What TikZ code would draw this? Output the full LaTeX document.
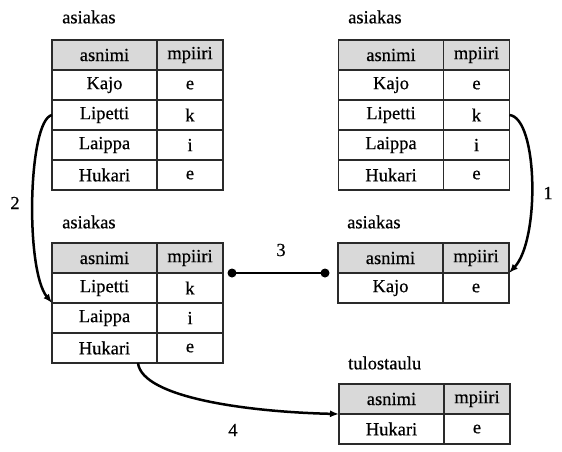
\documentclass[tikz,border=0pt]{standalone}
\usepackage{fontspec}
\setmainfont{Liberation Serif}
\newfontfamily\semib{Liberation Serif}[FakeBold=0.5]
\usetikzlibrary{arrows.meta}
\definecolor{hdrgray}{HTML}{D9D9D9}
\definecolor{linegray}{HTML}{2A2A2A}
\newcommand{\mytable}[4]{%
  \node[cell,hdr,minimum width=105pt] (#1h1) at (#2,#3) {asnimi};
  \node[cell,hdr,minimum width=66pt] (#1h2) at (#2+105,#3) {mpiiri};
  \foreach \a/\b [count=\i] in {#4} {
    \node[cell,minimum width=105pt] (#1r\i a) at (#2,{#3+30*\i}) {\a};
    \node[cell,minimum width=66pt] (#1r\i b) at (#2+105,{#3+30*\i}) {\b};
  }%
}
\begin{document}
\begin{tikzpicture}[x=1pt,y=-1pt,
  cell/.style={draw=linegray, line width=1.3pt, minimum height=30pt, inner sep=0pt,
    outer sep=0pt, anchor=north west, font=\semib\fontsize{18.5}{20}\selectfont},
  hdr/.style={fill=hdrgray},
  ttl/.style={anchor=west, inner sep=0pt, font=\semib\fontsize{18.5}{20}\selectfont},
  lbl/.style={inner sep=0pt, font=\semib\fontsize{18.5}{20}\selectfont},
  conn/.style={line width=2.5pt, black, -{Latex[length=9pt,width=7pt]}},
  dotline/.style={line width=2.5pt, black},
  ]
\useasboundingbox (0,0) rectangle (562,451);

\node[ttl] (ttl1) at (62,17) {asiakas};
\mytable{ta}{52}{40}{Kajo/e, Lipetti/k, Laippa/i, Hukari/e}

\node[ttl] (ttl2) at (348,17) {asiakas};
\mytable{tb}{338.5}{40}{Kajo/e, Lipetti/k, Laippa/i, Hukari/e}

\node[ttl] (ttl3) at (62,222) {asiakas};
\mytable{tc}{52}{243}{Lipetti/k, Laippa/i, Hukari/e}

\node[ttl] (ttl4) at (347,222) {asiakas};
\mytable{td}{338}{243}{Kajo/e}

\node[ttl] (ttl5) at (348,363) {tulostaulu};
\mytable{te}{339}{384}{Hukari/e}

% connector 1
\draw[conn] (tbr2b.east) .. controls (538,118) and (540,240) .. (tdh2.south east);
\node[lbl] (l1) at (548,193) {1};

% connector 2
\draw[conn] (tar2a.west) .. controls (28,120) and (25,270) .. (tcr1a.south west);
\node[lbl] (l2) at (15,203) {2};

% connector 3
\coordinate (c3a) at (232,273);
\coordinate (c3b) at (325,273);
\draw[dotline] (c3a) -- (c3b);
\fill (c3a) circle (4.5pt);
\fill (c3b) circle (4.5pt);
\node[lbl] (l3) at (281,250) {3};

% connector 4
\coordinate (c4) at ([xshift=33.5pt]tcr3a.south);
\draw[conn] (c4) .. controls (142,398) and (250,412) .. (teh1.south west);
\node[lbl] (l4) at (233,430) {4};
\end{tikzpicture}
\end{document}
